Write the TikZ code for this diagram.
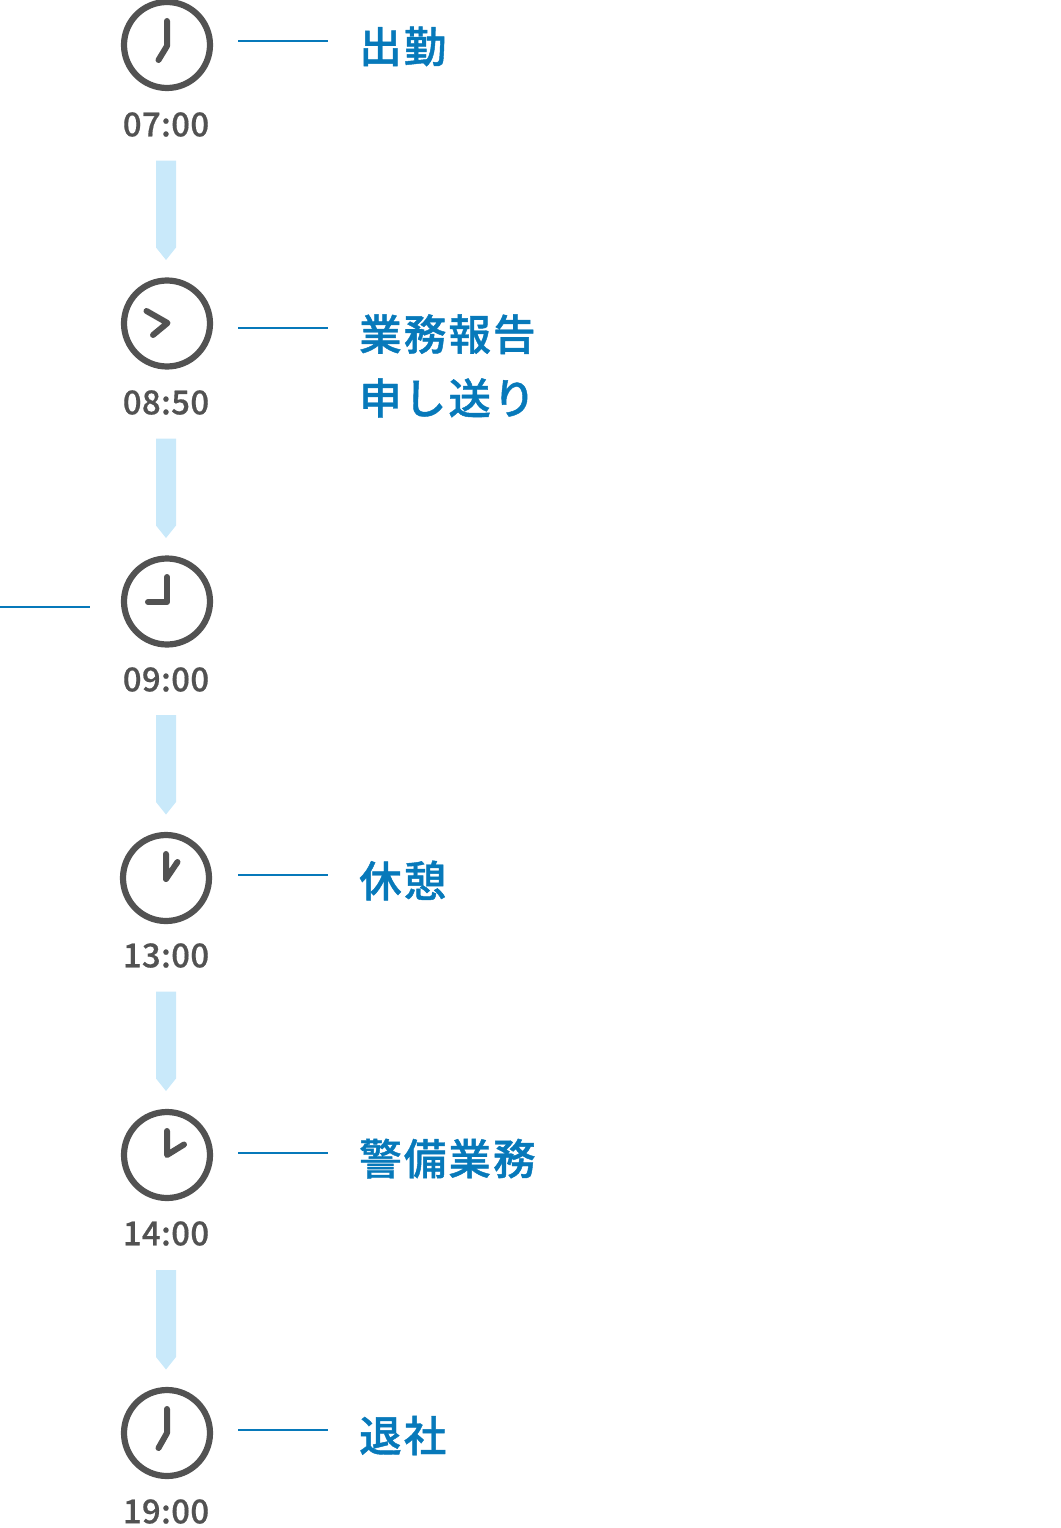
\documentclass[tikz,border=0pt]{standalone}
\usepackage{fontspec}
\usetikzlibrary{positioning}
\usetikzlibrary{calc}
\newfontfamily\timefont[LetterSpace=1,FakeBold=0.5]{Noto Sans CJK JP Medium}
\newfontfamily\taskfont[LetterSpace=5,FakeBold=1]{Noto Sans CJK JP Medium}
\definecolor{clockgray}{HTML}{525252}
\definecolor{stepblue}{HTML}{0779BA}
\definecolor{arrowblue}{HTML}{C9E9FA}
\tikzset{
  clockface/.style={circle,draw=clockgray,line width=6.2pt,minimum size=86pt,inner sep=0pt},
  clockhand/.style={draw=clockgray,line width=6pt,line cap=round,line join=round},
  timelabel/.style={text=clockgray,font=\fontsize{33}{33}\selectfont\timefont,inner sep=0pt},
  tasklabel/.style={text=stepblue,anchor=west,align=left,inner sep=0pt,font=\fontsize{42.5}{64}\selectfont\taskfont},
  tickline/.style={draw=stepblue,line width=2pt},
  downarrow/.style={fill=arrowblue},
}
\begin{document}
\begin{tikzpicture}[x=1pt,y=-1pt]
\useasboundingbox (0,0) rectangle (1060,1528);

% clocks
\node[clockface] (clockA) at (167,45) {};
\node[clockface] (clockB) at (167,323.5) {};
\node[clockface] (clockC) at (167,601.5) {};
\node[clockface] (clockD) at (166,878) {};
\node[clockface] (clockE) at (167,1155) {};
\node[clockface] (clockF) at (167,1433) {};

% hands
\draw[clockhand] (167,21) -- (167,46) -- (158.5,60);
\draw[clockhand] (146.5,311) -- (167.5,323) -- (153,335);
\draw[clockhand] (167,577) -- (167,602) -- (148,602);
\draw[clockhand] (166,854) -- (166,879) -- (177.5,862);
\draw[clockhand] (167,1131) -- (167,1155) -- (184,1144.5);
\draw[clockhand] (167,1409) -- (167,1433) -- (158.5,1448);

% times
\node[timelabel] (timeA) at (166,124.5) {07:00};
\node[timelabel] (timeB) at (166,402.5) {08:50};
\node[timelabel] (timeC) at (166,679.5) {09:00};
\node[timelabel] (timeD) at (166,955.5) {13:00};
\node[timelabel] (timeE) at (166,1233.5) {14:00};
\node[timelabel] (timeF) at (166,1511.5) {19:00};

% arrows
\foreach \y in {160.5,438.5,715,991.5,1270}
  \fill[downarrow] (156,\y) -- (176,\y) -- ++(0,87) -- ++(-10,12.5) -- ++(-10,-12.5) -- cycle;

% task texts
\coordinate (tickA) at (238,41);
\coordinate (tickB) at (238,328);
\coordinate (tickC) at (0,607);
\coordinate (tickD) at (238,875);
\coordinate (tickE) at (238,1153);
\coordinate (tickF) at (238,1430);
\draw[tickline] (tickA) -- ++(90,0);
\draw[tickline] (tickB) -- ++(90,0);
\draw[tickline] (tickC) -- ++(90,0);
\draw[tickline] (tickD) -- ++(90,0);
\draw[tickline] (tickE) -- ++(90,0);
\draw[tickline] (tickF) -- ++(90,0);

\node[tasklabel] (taskA) at (359,46.5) {出勤};
\node[tasklabel] (taskB) at (359,366) {業務報告\\申し送り};
\node[tasklabel] (taskD) at (359,880.5) {休憩};
\node[tasklabel] (taskE) at (359,1158.5) {警備業務};
\node[tasklabel] (taskF) at (359,1435.5) {退社};
\end{tikzpicture}
\end{document}
